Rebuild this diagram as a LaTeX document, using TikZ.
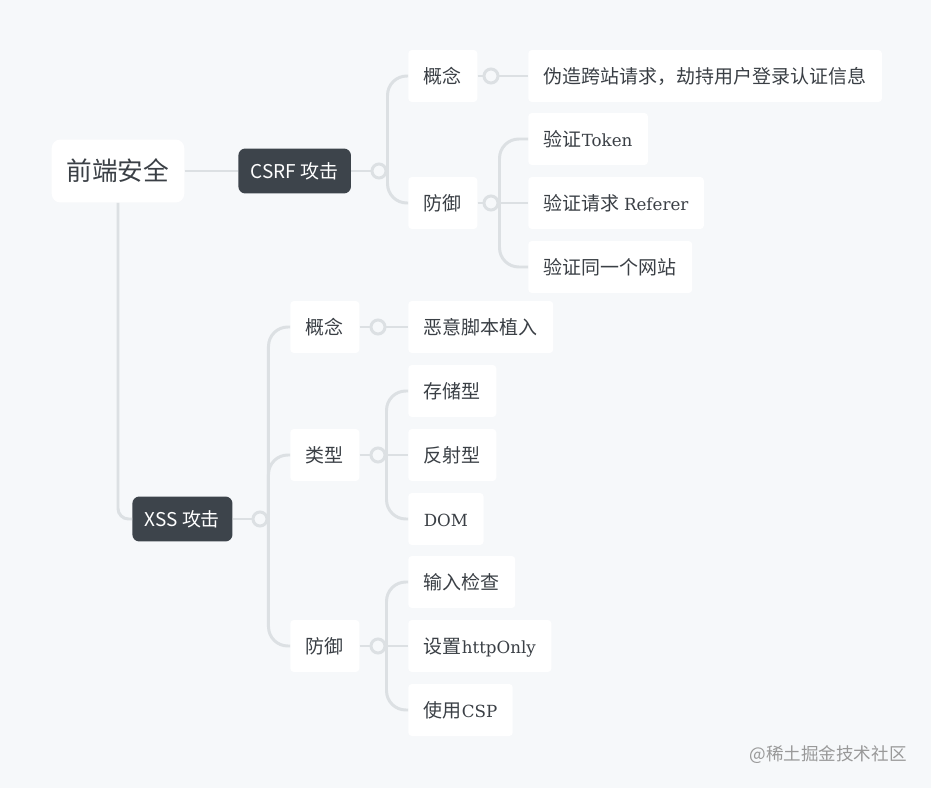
\documentclass[tikz,border=0pt]{standalone}
\usepackage{fontspec}
\setmainfont{DejaVu Serif}[Scale=0.88]
\newfontfamily\cjk{Noto Sans CJK SC}
\usetikzlibrary{shapes.geometric}
\definecolor{bgc}{HTML}{F6F8FA}
\definecolor{linec}{HTML}{DCE0E3}
\definecolor{darkc}{HTML}{3D444B}
\definecolor{txtc}{HTML}{3A3F45}
\tikzstyle{root} = [rectangle, rounded corners=5pt, fill=white, text=txtc,
font=\cjk\fontsize{14.6}{17}\selectfont, minimum height=1.26cm, inner xsep=0.3cm]
\tikzstyle{topic} = [rectangle, rounded corners=4pt, fill=darkc, text=white,
font=\cjk\fontsize{10.8}{13}\selectfont, minimum height=0.9cm, inner xsep=0.25cm,
text height=1em, text depth=0.08em, anchor=west]
\tikzstyle{sub} = [rectangle, rounded corners=2pt, fill=white, text=txtc,
font=\cjk\fontsize{10.8}{13}\selectfont, minimum height=1.04cm, inner xsep=0.31cm,
text height=1em, text depth=0.08em, anchor=west]
\tikzstyle{knot} = [circle, draw=linec, line width=1.7pt, fill=bgc,
minimum size=0.28cm, inner sep=0pt]
\tikzstyle{link} = [draw=linec, line width=1.7pt, rounded corners=11pt]
\tikzstyle{wm} = [font=\cjk\fontsize{10}{12}\selectfont, text=black!40]

\begin{document}
\begin{tikzpicture}[x=0.02cm, y=-0.02cm]
    \fill[bgc] (0,0) rectangle (931,788);
    % first level
    \node[root] (root) at (118,171) {前端安全};
    \node[topic] (csrf) at (238,171) {CSRF 攻击};
    \node[topic] (xss) at (132,519) {XSS 攻击};
    \node[knot] (kcsrf) at (379,171) {};
    \node[knot] (kxss) at (260,519) {};
    % csrf branch
    \node[sub] (cgn) at (408,76) {概念};
    \node[sub] (cfy) at (408,203) {防御};
    \node[knot] (kcgn) at (491,76) {};
    \node[knot] (kcfy) at (491,203) {};
    \node[sub] (cdef) at (528,76) {伪造跨站请求，劫持用户登录认证信息};
    \node[sub] (ctok) at (528,139) {验证\textrm{Token}};
    \node[sub] (cref) at (528,203) {验证请求 \textrm{Referer}};
    \node[sub] (csite) at (528,267) {验证同一个网站};
    % xss branch
    \node[sub] (xgn) at (290,327) {概念};
    \node[sub] (xlx) at (290,455) {类型};
    \node[sub] (xfy) at (290,646) {防御};
    \node[knot] (kxgn) at (378,327) {};
    \node[knot] (kxlx) at (378,455) {};
    \node[knot] (kxfy) at (378,646) {};
    \node[sub] (xdef) at (408,327) {恶意脚本植入};
    \node[sub] (xcc) at (408,391) {存储型};
    \node[sub] (xfs) at (408,455) {反射型};
    \node[sub] (xdom) at (408,519) {\textrm{DOM}};
    \node[sub] (xjc) at (408,582) {输入检查};
    \node[sub] (xhttp) at (408,646) {设置\textrm{httpOnly}};
    \node[sub] (xcsp) at (408,710) {使用\textrm{CSP}};
    % links
    \draw[link] (root.east) -- (csrf.west);
    \draw[link, rounded corners=6pt] (root.south) |- (xss.west);
    \draw[link] (csrf.east) -- (kcsrf.west);
    \draw[link] (kcsrf.east) |- (cgn.west);
    \draw[link] (kcsrf.east) |- (cfy.west);
    \draw[link] (cgn.east) -- (kcgn.west);
    \draw[link] (cfy.east) -- (kcfy.west);
    \draw[link] (kcgn.east) -- (cdef.west);
    \draw[link] (kcfy.east) |- (ctok.west);
    \draw[link] (kcfy.east) -- (cref.west);
    \draw[link] (kcfy.east) |- (csite.west);
    \draw[link] (xss.east) -- (kxss.west);
    \draw[link] (kxss.east) |- (xgn.west);
    \draw[link] (kxss.east) |- (xlx.west);
    \draw[link] (kxss.east) |- (xfy.west);
    \draw[link] (xgn.east) -- (kxgn.west);
    \draw[link] (xlx.east) -- (kxlx.west);
    \draw[link] (xfy.east) -- (kxfy.west);
    \draw[link] (kxgn.east) -- (xdef.west);
    \draw[link] (kxlx.east) |- (xcc.west);
    \draw[link] (kxlx.east) -- (xfs.west);
    \draw[link] (kxlx.east) |- (xdom.west);
    \draw[link] (kxfy.east) |- (xjc.west);
    \draw[link] (kxfy.east) -- (xhttp.west);
    \draw[link] (kxfy.east) |- (xcsp.west);
    \node[wm] (mark) at (828,755) {@稀土掘金技术社区};
\end{tikzpicture}
\end{document}
